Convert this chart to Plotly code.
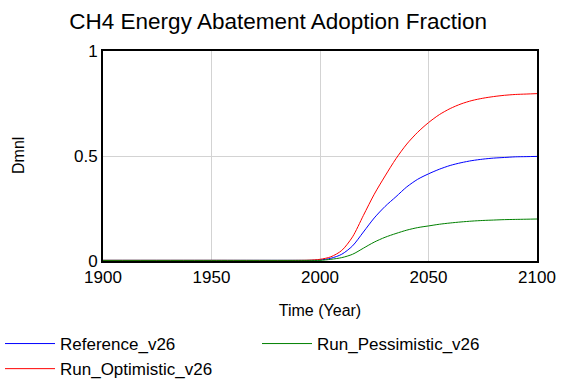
import plotly.graph_objects as go

years = [1900, 1950, 1990, 1995, 2000, 2005, 2010, 2015, 2020, 2025, 2030, 2035,
         2040, 2045, 2050, 2055, 2060, 2065, 2070, 2075, 2080, 2085, 2090, 2095, 2100]

reference_v26 = [0.003, 0.003, 0.003, 0.003, 0.005, 0.013, 0.032, 0.072, 0.138, 0.205, 0.260, 0.306,
                 0.353, 0.389, 0.415, 0.437, 0.455, 0.468, 0.478, 0.485, 0.490, 0.493, 0.496, 0.497, 0.498]
run_optimistic_v26 = [0.003, 0.003, 0.003, 0.004, 0.008, 0.020, 0.050, 0.115, 0.217, 0.318, 0.405, 0.487,
                      0.557, 0.613, 0.659, 0.697, 0.726, 0.748, 0.764, 0.775, 0.783, 0.789, 0.793, 0.795, 0.797]
run_pessimistic_v26 = [0.003, 0.003, 0.003, 0.003, 0.003, 0.008, 0.016, 0.032, 0.061, 0.090, 0.113, 0.131,
                       0.147, 0.159, 0.167, 0.175, 0.181, 0.186, 0.190, 0.193, 0.195, 0.197, 0.198, 0.199, 0.200]

FONT = "Liberation Sans, Arial, sans-serif"

fig = go.Figure()
fig.add_trace(go.Scatter(x=years, y=reference_v26, mode="lines", name="Reference_v26",
                         line=dict(color="#0000ff", width=1, shape="spline", smoothing=0.8),
                         legend="legend"))
fig.add_trace(go.Scatter(x=years, y=run_optimistic_v26, mode="lines", name="Run_Optimistic_v26",
                         line=dict(color="#ff0000", width=1, shape="spline", smoothing=0.8),
                         legend="legend"))
fig.add_trace(go.Scatter(x=years, y=run_pessimistic_v26, mode="lines", name="Run_Pessimistic_v26",
                         line=dict(color="#008000", width=1, shape="spline", smoothing=0.8),
                         legend="legend2"))

legend_common = dict(orientation="v", xref="container", yref="container", xanchor="left",
                     yanchor="top", y=1 - 326 / 384, font=dict(size=17, family=FONT, color="black"),
                     itemwidth=50, bgcolor="rgba(0,0,0,0)", tracegroupgap=0, traceorder="normal")

fig.update_layout(
    width=576, height=384,
    paper_bgcolor="white", plot_bgcolor="white",
    margin=dict(l=103, r=39, t=51, b=123, autoexpand=False),
    font=dict(family=FONT, size=16, color="black"),
    title=dict(text="CH4 Energy Abatement Adoption Fraction", x=0.483, xanchor="center",
               y=1 - 21 / 384, yanchor="middle", font=dict(size=22.5, family=FONT, color="black")),
    showlegend=True,
    legend=dict(x=0, **legend_common),
    legend2=dict(x=257 / 576, **legend_common),
    annotations=[dict(text="Dmnl", xref="paper", yref="paper", x=(18 - 103) / 434, y=0.5,
                      xanchor="center", yanchor="middle", textangle=-90, showarrow=False,
                      font=dict(size=16, family=FONT, color="black"))],
)
fig.update_xaxes(range=[1900, 2100], tickvals=[1900, 1950, 2000, 2050, 2100],
                 showgrid=True, gridcolor="#d3d3d3", gridwidth=1,
                 showline=True, linecolor="black", linewidth=2, mirror=True,
                 ticks="", zeroline=False, tickfont=dict(size=17),
                 title=dict(text="Time (Year)", standoff=18, font=dict(size=16)))
fig.update_yaxes(range=[0, 1], tickvals=[0, 0.5, 1], ticktext=["0", "0.5", "1"],
                 showgrid=True, gridcolor="#d3d3d3", gridwidth=1,
                 showline=True, linecolor="black", linewidth=2, mirror=True,
                 ticks="", zeroline=False, tickfont=dict(size=17))

fig.write_html("out.html", config={"displayModeBar": False},
               post_script="document.body.style.margin='0';")
